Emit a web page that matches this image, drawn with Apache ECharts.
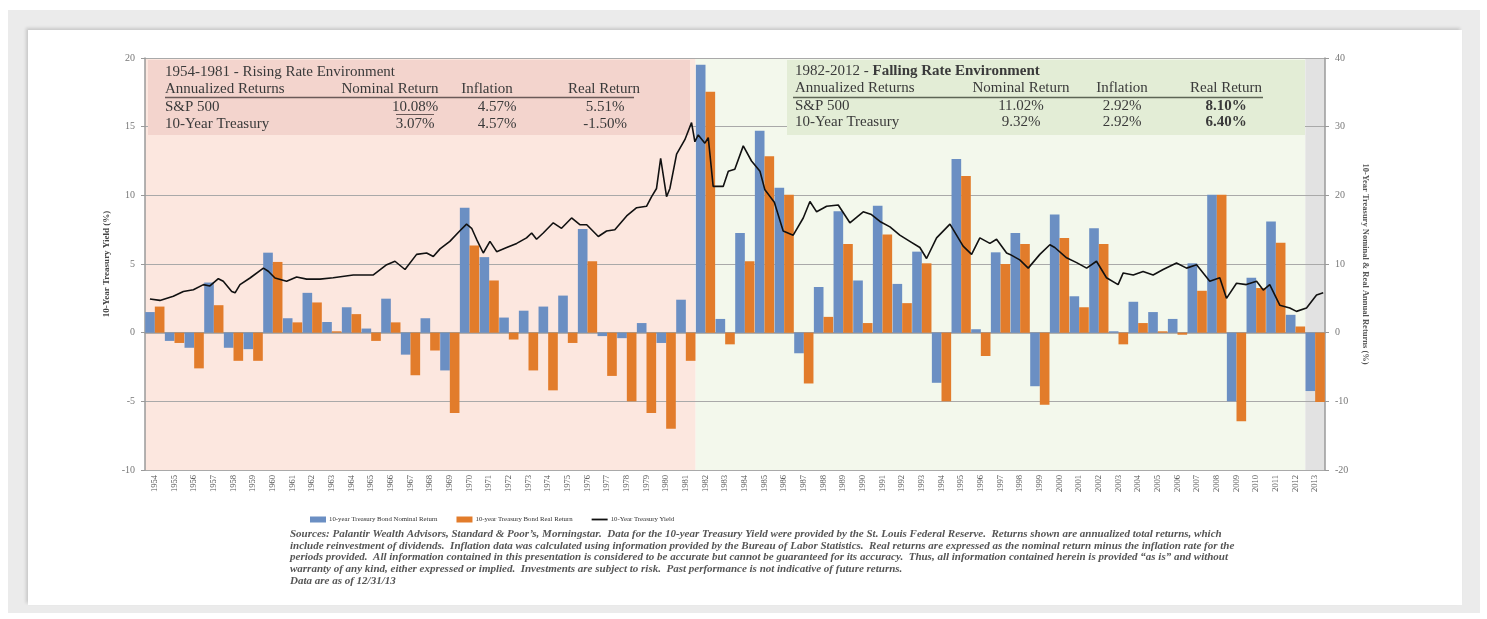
<!DOCTYPE html>
<html><head><meta charset="utf-8">
<script src="https://cdn.jsdelivr.net/npm/echarts@6.0.0/dist/echarts.min.js"></script>
<style>
html,body{margin:0;padding:0;background:#fff;}
#frame{position:absolute;left:8px;top:10px;width:1472px;height:603px;background:#ebebeb;}
#card{position:absolute;left:28px;top:30px;width:1434px;height:575px;background:#fff;box-shadow:-2px -2px 3px rgba(0,0,0,0.15);}
#chart{position:absolute;left:0;top:0;width:1487px;height:619px;}
</style></head><body>
<div id="frame"></div><div id="card"></div><div id="chart"></div>
<script>
// ---- data ----
const years = ['1954','1955','1956','1957','1958','1959','1960','1961','1962','1963',
  '1964','1965','1966','1967','1968','1969','1970','1971','1972','1973',
  '1974','1975','1976','1977','1978','1979','1980','1981','1982','1983',
  '1984','1985','1986','1987','1988','1989','1990','1991','1992','1993',
  '1994','1995','1996','1997','1998','1999','2000','2001','2002','2003',
  '2004','2005','2006','2007','2008','2009','2010','2011','2012','2013'];
const nominalReturn = [3.0,-1.2,-2.2,7.3,-2.2,-2.4,11.65,2.1,5.8,1.55,
  3.7,0.6,4.95,-3.2,2.1,-5.5,18.2,11.0,2.2,3.2,
  3.8,5.4,15.1,-0.5,-0.8,1.4,-1.5,4.8,39.0,2.0,
  14.5,29.4,21.1,-3.0,6.65,17.7,7.6,18.5,7.1,11.8,
  -7.3,25.3,0.5,11.7,14.5,-7.8,17.2,5.3,15.2,0.2,
  4.5,3.0,2.0,10.1,20.1,-10.0,8.0,16.2,2.6,-8.5];
const realReturn = [3.8,-1.5,-5.2,4.0,-4.1,-4.1,10.3,1.5,4.4,0.2,
  2.7,-1.2,1.5,-6.2,-2.6,-11.7,12.7,7.6,-1.0,-5.5,
  -8.4,-1.5,10.4,-6.3,-10.0,-11.7,-14.0,-4.1,35.1,-1.7,
  10.4,25.7,20.1,-7.4,2.3,12.9,1.4,14.3,4.3,10.1,
  -10.0,22.8,-3.4,10.0,12.9,-10.5,13.8,3.7,12.9,-1.7,
  1.4,0.2,-0.3,6.1,20.1,-12.9,6.5,13.1,0.9,-10.1];
const yieldDates = [1954.25,1954.76,1955.44,1955.95,1956.46,1956.97,1957.30,1957.73,1957.98,1958.41,
  1958.58,1958.83,1959.34,1960.02,1960.27,1960.61,1961.20,1961.71,1962.22,1962.90,
  1963.57,1964.59,1965.61,1966.29,1966.71,1967.22,1967.81,1968.32,1968.66,1969.00,
  1969.50,1970.00,1970.35,1970.61,1970.86,1971.20,1971.54,1971.88,1972.39,1972.90,
  1973.40,1973.66,1973.91,1974.25,1974.76,1975.18,1975.69,1976.11,1976.46,1977.05,
  1977.47,1977.89,1978.49,1979.00,1979.50,1979.76,1980.01,1980.22,1980.52,1980.69,
  1981.03,1981.45,1981.79,1981.96,1982.13,1982.47,1982.64,1982.89,1983.40,1983.66,
  1983.99,1984.42,1984.84,1985.27,1985.52,1986.00,1986.45,1986.96,1987.47,1987.81,
  1988.15,1988.66,1989.25,1989.84,1990.52,1990.94,1991.37,1991.88,1992.38,1992.89,
  1993.40,1993.74,1994.25,1994.93,1995.60,1996.03,1996.45,1996.96,1997.30,1997.81,
  1997.98,1998.48,1998.91,1999.50,2000.01,2000.26,2000.86,2001.37,2001.88,2002.38,
  2002.89,2003.48,2003.74,2004.25,2004.75,2005.26,2005.77,2006.45,2006.96,2007.47,
  2008.14,2008.65,2008.99,2009.50,2010.00,2010.52,2010.86,2011.19,2011.70,2012.21,
  2012.55,2013.06,2013.57,2013.91];
const yieldValues = [2.45,2.35,2.65,3.0,3.13,3.5,3.4,3.93,3.74,3.0,
  2.9,3.5,3.98,4.7,4.47,3.98,3.74,4.05,3.9,3.9,
  4.0,4.2,4.2,4.95,5.2,4.6,5.7,5.8,5.55,6.1,
  6.65,7.4,7.9,7.6,6.8,5.8,6.65,5.9,6.2,6.5,
  6.9,7.26,6.8,7.26,8.0,7.6,8.35,7.86,7.86,7.0,
  7.4,7.5,8.5,9.1,9.2,9.9,10.5,12.7,9.9,10.5,
  13.0,14.05,15.3,13.9,14.4,13.8,14.2,10.65,10.65,11.75,
  11.9,13.6,12.5,11.75,10.4,9.5,7.4,7.1,8.35,9.55,
  8.8,9.2,9.3,8.0,8.8,8.6,8.1,7.7,7.1,6.65,
  6.2,5.4,6.9,7.9,6.3,5.7,6.9,6.5,6.8,5.8,
  5.7,5.3,4.7,5.7,6.4,6.2,5.45,5.1,4.7,5.2,
  4.0,3.5,4.35,4.2,4.45,4.2,4.6,5.07,4.7,4.95,
  3.75,4.0,2.5,3.6,3.5,3.75,3.1,3.5,2.0,1.8,
  1.55,1.8,2.75,2.9];
const leftTicks = {min:-10, max:20, interval:5};
const rightTicks = {min:-20, max:40, interval:10};
const periods = [
  {from:1954, to:1982, color:'#fce7df'},
  {from:1982, to:2013, color:'#f3f8ec'},
  {from:2013, to:2014, color:'#e2e2e2'}
];
const risingTable = {
  title:'1954-1981 - Rising Rate Environment',
  header:['Annualized Returns','Nominal Return','Inflation','Real Return'],
  rows:[['S&P 500','10.08%','4.57%','5.51%'],['10-Year Treasury','3.07%','4.57%','-1.50%']]
};
const fallingTable = {
  titleA:'1982-2012 - ', titleB:'Falling Rate Environment',
  header:['Annualized Returns','Nominal Return','Inflation','Real Return'],
  rows:[['S&P 500','11.02%','2.92%','8.10%'],['10-Year Treasury','9.32%','2.92%','6.40%']]
};
const footnote = [
  'Sources: Palantir Wealth Advisors, Standard & Poor\u2019s, Morningstar.  Data for the 10-year Treasury Yield were provided by the St. Louis Federal Reserve.  Returns shown are annualized total returns, which',
  'include reinvestment of dividends.  Inflation data was calculated using information provided by the Bureau of Labor Statistics.  Real returns are expressed as the nominal return minus the inflation rate for the',
  'periods provided.  All information contained in this presentation is considered to be accurate but cannot be guaranteed for its accuracy.  Thus, all information contained herein is provided \u201cas is\u201d and without',
  'warranty of any kind, either expressed or implied.  Investments are subject to risk.  Past performance is not indicative of future returns.',
  'Data are as of 12/31/13'
];
// ---- chart ----
const SERIF = '"Liberation Serif", "DejaVu Serif", serif';
const chart = echarts.init(document.getElementById('chart'), null, {renderer:'canvas'});
const graphics = [];
const TF = 15;
function txt(x, y, text, opt) {
  opt = opt || {};
  graphics.push({type:'text', x:x, y:y, z:11, silent:true, style:Object.assign({
    text:text, font:(opt.weight||'normal')+' '+(opt.size||TF)+'px '+SERIF, fill:opt.fill||'#3a3a3a',
    align:opt.align||'left', verticalAlign:'middle', textAlign:opt.align||'left', textVerticalAlign:'middle'
  }, opt.extra||{})});
}
// rising table
graphics.push({type:'rect', z:10, silent:true, shape:{x:148,y:60,width:542,height:75}, style:{fill:'#f3d4cd'}});
txt(165, 72, risingTable.title);
const rCols = [[165,'left'],[390,'center'],[487,'center'],[604,'center']];
const rVals = [[165,'left'],[415,'center'],[497,'center'],[605,'center']];
risingTable.header.forEach((h,i)=>txt(rCols[i][0], 89, h, {align:rCols[i][1]}));
graphics.push({type:'line', z:11, silent:true, shape:{x1:165,y1:97.5,x2:634,y2:97.5}, style:{stroke:'#6a5a58',lineWidth:1.5}});
risingTable.rows.forEach((r,ri)=>r.forEach((c,ci)=>txt(rVals[ci][0], 107+ri*17.5, c, {align:rVals[ci][1]})));
graphics.push({type:'line', z:11, silent:true, shape:{x1:396,y1:114.5,x2:434,y2:114.5}, style:{stroke:'#6a5a58',lineWidth:1}});
// falling table
graphics.push({type:'rect', z:10, silent:true, shape:{x:787,y:60,width:518,height:75}, style:{fill:'#e3edd6'}});
graphics.push({type:'text', x:795, y:71, z:11, silent:true, style:{
  text:'{a|'+fallingTable.titleA+'}{b|'+fallingTable.titleB+'}', verticalAlign:'middle', textVerticalAlign:'middle',
  rich:{a:{fontFamily:SERIF,fontSize:TF,fill:'#3a3a3a',color:'#3a3a3a'},b:{fontFamily:SERIF,fontSize:TF,fontWeight:'bold',fill:'#3a3a3a',color:'#3a3a3a'}}}});
const fCols = [[795,'left'],[1021,'center'],[1122,'center'],[1226,'center']];
fallingTable.header.forEach((h,i)=>txt(fCols[i][0], 88, h, {align:fCols[i][1]}));
graphics.push({type:'line', z:11, silent:true, shape:{x1:793,y1:97.5,x2:1263,y2:97.5}, style:{stroke:'#5d6555',lineWidth:1.5}});
fallingTable.rows.forEach((r,ri)=>r.forEach((c,ci)=>txt(fCols[ci][0], 106+ri*16.5, c, {align:fCols[ci][1], weight: ci===3?'bold':'normal'})));
// footnote
footnote.forEach((l,i)=>txt(290, 534+i*11.7, l, {size:11, fill:'#555', extra:{font:'italic bold 11px '+SERIF}}));

const option = {
  animation:false,
  textStyle:{fontFamily:SERIF},
  grid:{left:145, top:58, width:1180, height:412, containLabel:false},
  legend:{
    left:305, top:511, itemWidth:16, itemHeight:6, itemGap:19,
    textStyle:{fontFamily:SERIF, fontSize:6.8, color:'#333', padding:[0,0,0,-2]},
    data:[{name:'10-year Treasury Bond Nominal Return', icon:'rect'},
          {name:'10-year Treasury Bond Real Return', icon:'rect'},
          {name:'10-Year Treasury Yield', icon:'path://M0,0L16,0L16,1.8L0,1.8Z', itemStyle:{color:'#111'}}]
  },
  xAxis:[
    {type:'category', data:years, boundaryGap:true, gridIndex:0,
     axisLine:{lineStyle:{color:'#9a9a9a', width:1.5}}, axisTick:{show:false},
     axisLabel:{rotate:90, interval:0, fontSize:8.5, color:'#555', margin:5, fontFamily:SERIF}},
    {type:'value', min:1954, max:2014, show:false, gridIndex:0}
  ],
  yAxis:[
    {type:'value', min:leftTicks.min, max:leftTicks.max, interval:leftTicks.interval, position:'left',
     name:'10-Year Treasury Yield (%)', nameLocation:'middle', nameGap:27,
     nameTextStyle:{fontFamily:SERIF, fontSize:9, fontWeight:'bold', color:'#444'},
     axisLine:{show:true, lineStyle:{color:'#9a9a9a', width:1.5}},
     axisTick:{show:true, length:4, lineStyle:{color:'#9a9a9a'}},
     axisLabel:{fontSize:10, color:'#777', margin:10, fontFamily:SERIF},
     splitLine:{show:true, lineStyle:{color:'#a9a9a9', width:1}}},
    {type:'value', min:rightTicks.min, max:rightTicks.max, interval:rightTicks.interval, position:'right',
     name:'10-Year Treasury Nominal & Real Annual Returns (%)', nameLocation:'middle', nameGap:36, nameRotate:-90,
     nameTextStyle:{fontFamily:SERIF, fontSize:8.5, fontWeight:'bold', color:'#555'},
     axisLine:{show:true, lineStyle:{color:'#9a9a9a', width:1.5}},
     axisTick:{show:true, length:4, lineStyle:{color:'#9a9a9a'}},
     axisLabel:{fontSize:10, color:'#777', margin:10, fontFamily:SERIF},
     splitLine:{show:false}}
  ],
  series:[
    {name:'10-year Treasury Bond Nominal Return', type:'bar', xAxisIndex:0, yAxisIndex:1,
     data:nominalReturn, itemStyle:{color:'#6b8fc3'}, barGap:'0%', barCategoryGap:'2%', z:2},
    {name:'10-year Treasury Bond Real Return', type:'bar', xAxisIndex:0, yAxisIndex:1,
     data:realReturn, itemStyle:{color:'#e27c2b'}, z:2},
    {name:'10-Year Treasury Yield', type:'line', xAxisIndex:1, yAxisIndex:0,
     data:yieldDates.map((d,i)=>[d, yieldValues[i]]), symbol:'none', smooth:false,
     lineStyle:{color:'#111', width:1.6}, itemStyle:{color:'#111'}, z:12,
     markArea:{silent:true, z:-1, data:periods.map(p=>[{xAxis:p.from, itemStyle:{color:p.color}},{xAxis:p.to}])}}
  ],
  graphic:graphics
};
chart.setOption(option);
</script></body></html>
